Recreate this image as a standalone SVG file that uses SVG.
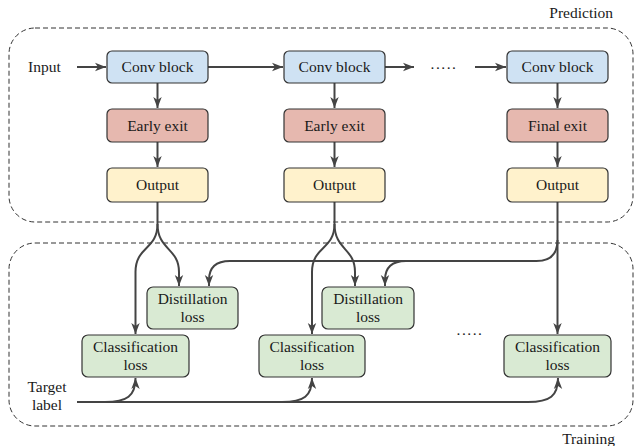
<svg xmlns="http://www.w3.org/2000/svg" width="635" height="446" viewBox="0 0 635 446" font-family="'Liberation Serif', 'DejaVu Serif', serif">
  <defs>
    <marker id="arrow" markerUnits="userSpaceOnUse" markerWidth="12" markerHeight="10" refX="11" refY="5" orient="auto">
      <path d="M0,0.8 L11,5 L0,9.2 L3,5 Z" fill="#444"/>
    </marker>
    <style>
      text { font-family: 'Liberation Serif', 'DejaVu Serif', serif; font-size: 15.5px; fill: #1a1a1a; }
      .c { text-anchor: middle; }
      .frame { fill: none; stroke: #333; stroke-width: 1; stroke-dasharray: 5 3; }
      .node { stroke: #333; stroke-width: 1.2; }
      .conv { fill: #cfe2f3; }
      .exit { fill: #e6b8af; }
      .out { fill: #fff2cc; }
      .loss { fill: #d9ead3; }
      .edge { fill: none; stroke: #444; stroke-width: 2; }
      .arr { marker-end: url(#arrow); }
    </style>
  </defs>

  <!-- stage frames -->
  <g id="prediction-frame">
    <rect class="frame" x="9" y="28" width="624" height="194" rx="26"/>
    <text x="613" y="18" text-anchor="end">Prediction</text>
  </g>
  <g id="training-frame">
    <rect class="frame" x="9" y="243" width="624" height="183" rx="26"/>
    <text x="615" y="444" text-anchor="end">Training</text>
  </g>

  <!-- connectors -->
  <g id="connectors">
    <path class="edge arr" d="M77,67 H106"/>
    <path class="edge arr" d="M208,67 H283"/>
    <path class="edge arr" d="M385,67 H414"/>
    <path class="edge arr" d="M475,67 H506"/>

    <path class="edge arr" d="M157.5,83 V108"/>
    <path class="edge arr" d="M157.5,142 V167"/>
    <path class="edge arr" d="M334.5,83 V108"/>
    <path class="edge arr" d="M334.5,142 V167"/>
    <path class="edge arr" d="M557.5,83 V108"/>
    <path class="edge arr" d="M557.5,142 V167"/>

    <!-- branch 1 outputs -->
    <path class="edge arr" d="M157.5,202 V224 C157.5,250 135.5,246 135.5,272 V334"/>
    <path class="edge arr" d="M157.5,224 C157.5,250 179,248 179,272 V286"/>
    <!-- branch 2 outputs -->
    <path class="edge arr" d="M334.5,202 V224 C334.5,250 312,246 312,272 V334"/>
    <path class="edge arr" d="M334.5,224 C334.5,250 355,248 355,272 V286"/>
    <!-- final output -->
    <path class="edge arr" d="M557.5,202 V334"/>
    <path class="edge arr" d="M557.5,240 Q557.5,261 536.5,261 H230 Q209,261 209,280 V286"/>
    <path class="edge arr" d="M406,261 Q385,261 385,280 V286"/>

    <!-- target label -->
    <path class="edge arr" d="M77,402 H528 C550,402 558,396 558,378"/>
    <path class="edge arr" d="M105,402 C127,402 135.5,396 135.5,378"/>
    <path class="edge arr" d="M282,402 C304,402 312,396 312,378"/>
  </g>

  <!-- labels -->
  <g id="input-label"><text x="28" y="72">Input</text></g>
  <g id="dots-top"><text x="444" y="69" class="c" letter-spacing="1.5">.....</text></g>
  <g id="dots-bottom"><text x="470" y="335" class="c" letter-spacing="1.5">.....</text></g>
  <g id="target-label">
    <text x="47" y="392" class="c">Target</text>
    <text x="47" y="410" class="c">label</text>
  </g>

  <!-- column 1 -->
  <g id="conv1"><rect class="node conv" x="107" y="51" width="101" height="32" rx="5"/><text x="157.5" y="72" class="c">Conv block</text></g>
  <g id="exit1"><rect class="node exit" x="107" y="109" width="101" height="33" rx="5"/><text x="157.5" y="131" class="c">Early exit</text></g>
  <g id="out1"><rect class="node out" x="107" y="168" width="101" height="34" rx="5"/><text x="157.5" y="190" class="c">Output</text></g>

  <!-- column 2 -->
  <g id="conv2"><rect class="node conv" x="284" y="51" width="101" height="32" rx="5"/><text x="334.5" y="72" class="c">Conv block</text></g>
  <g id="exit2"><rect class="node exit" x="284" y="109" width="101" height="33" rx="5"/><text x="334.5" y="131" class="c">Early exit</text></g>
  <g id="out2"><rect class="node out" x="284" y="168" width="101" height="34" rx="5"/><text x="334.5" y="190" class="c">Output</text></g>

  <!-- column 3 -->
  <g id="conv3"><rect class="node conv" x="507" y="51" width="101" height="32" rx="5"/><text x="557.5" y="72" class="c">Conv block</text></g>
  <g id="exit3"><rect class="node exit" x="507" y="109" width="101" height="33" rx="5"/><text x="557.5" y="131" class="c">Final exit</text></g>
  <g id="out3"><rect class="node out" x="507" y="168" width="101" height="34" rx="5"/><text x="557.5" y="190" class="c">Output</text></g>

  <!-- losses -->
  <g id="distill1"><rect class="node loss" x="147" y="287" width="91" height="42" rx="6"/><text x="192.5" y="304" class="c">Distillation</text><text x="192.5" y="322" class="c">loss</text></g>
  <g id="distill2"><rect class="node loss" x="322" y="287" width="92" height="42" rx="6"/><text x="368" y="304" class="c">Distillation</text><text x="368" y="322" class="c">loss</text></g>
  <g id="cls1"><rect class="node loss" x="82" y="335" width="107" height="42" rx="6"/><text x="135.5" y="352" class="c">Classification</text><text x="135.5" y="370" class="c">loss</text></g>
  <g id="cls2"><rect class="node loss" x="259" y="335" width="106" height="42" rx="6"/><text x="312" y="352" class="c">Classification</text><text x="312" y="370" class="c">loss</text></g>
  <g id="cls3"><rect class="node loss" x="504" y="335" width="107" height="42" rx="6"/><text x="557.5" y="352" class="c">Classification</text><text x="557.5" y="370" class="c">loss</text></g>
</svg>
